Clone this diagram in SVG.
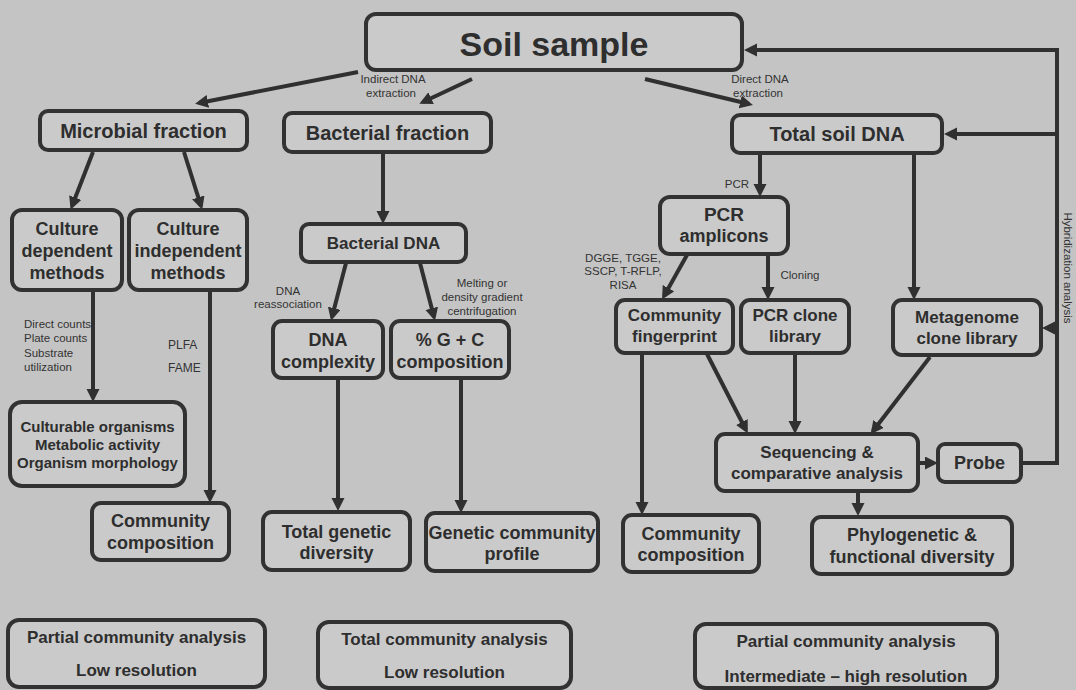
<svg xmlns="http://www.w3.org/2000/svg" width="1076" height="690" viewBox="0 0 1076 690">
<defs>
<marker id="ah" markerUnits="userSpaceOnUse" markerWidth="14" markerHeight="14" refX="9" refY="6.5" orient="auto">
<path d="M0,0 L13,6.5 L0,13 z" fill="#303030"/>
</marker>
<style>
.box{fill:#cacaca;stroke:#323232;stroke-width:4;}
.t{font-family:"Liberation Sans",Arial,sans-serif;font-weight:bold;fill:#2e2e2e;text-anchor:middle;}
.s{font-family:"Liberation Sans",Arial,sans-serif;fill:#333;font-size:11.5px;}
.c{text-anchor:middle;}
.ln{stroke:#303030;stroke-width:4;fill:none;}
.ar{marker-end:url(#ah);}
</style>
</defs>
<rect x="0" y="0" width="1076" height="690" fill="#c4c4c4"/>

<g id="connectors">
<line class="ln ar" x1="358" y1="72" x2="199" y2="103"/>
<line class="ln ar" x1="472" y1="79" x2="423" y2="102"/>
<line class="ln ar" x1="645" y1="79" x2="749" y2="104"/>
<line class="ln ar" x1="93" y1="152" x2="72" y2="206"/>
<line class="ln ar" x1="184" y1="152" x2="201" y2="206"/>
<line class="ln ar" x1="383" y1="153" x2="383" y2="220"/>
<line class="ln ar" x1="93" y1="291" x2="93" y2="398"/>
<line class="ln ar" x1="210" y1="291" x2="210" y2="499"/>
<line class="ln ar" x1="346" y1="263" x2="332" y2="317"/>
<line class="ln ar" x1="420" y1="263" x2="434" y2="317"/>
<line class="ln ar" x1="338" y1="379" x2="338" y2="507"/>
<line class="ln ar" x1="461" y1="379" x2="461" y2="509"/>
<line class="ln ar" x1="760" y1="154" x2="760" y2="193"/>
<line class="ln ar" x1="914" y1="154" x2="914" y2="296"/>
<line class="ln ar" x1="687" y1="255" x2="664" y2="296"/>
<line class="ln ar" x1="768" y1="255" x2="768" y2="296"/>
<line class="ln ar" x1="642" y1="354" x2="642" y2="511"/>
<line class="ln ar" x1="707" y1="354" x2="746" y2="430"/>
<line class="ln ar" x1="795" y1="354" x2="795" y2="430"/>
<line class="ln ar" x1="930" y1="357" x2="873" y2="431"/>
<line class="ln ar" x1="918" y1="463" x2="934" y2="463"/>
<line class="ln ar" x1="858" y1="493" x2="858" y2="512"/>
<polyline class="ln ar" points="1021,463 1057,463 1057,50 748,50"/>
<line class="ln ar" x1="1057" y1="134" x2="948" y2="134"/>
<line class="ln ar" x1="1057" y1="328" x2="1046" y2="328"/>
</g>

<g id="edge-labels">
<text class="s c" x="393" y="83">Indirect DNA</text>
<text class="s c" x="391" y="97">extraction</text>
<text class="s c" x="760" y="83">Direct DNA</text>
<text class="s c" x="758" y="97">extraction</text>
<text class="s" x="24" y="328">Direct counts</text>
<text class="s" x="24" y="342">Plate counts</text>
<text class="s" x="24" y="357">Substrate</text>
<text class="s" x="24" y="371">utilization</text>
<text class="s" x="168" y="349" style="font-size:12px">PLFA</text>
<text class="s" x="168" y="372" style="font-size:12px">FAME</text>
<text class="s c" x="288" y="295">DNA</text>
<text class="s c" x="288" y="308">reassociation</text>
<text class="s c" x="482" y="287">Melting or</text>
<text class="s c" x="482" y="301">density gradient</text>
<text class="s c" x="482" y="315">centrifugation</text>
<text class="s c" x="737" y="188">PCR</text>
<text class="s c" x="623" y="262">DGGE, TGGE,</text>
<text class="s c" x="623" y="275">SSCP, T-RFLP,</text>
<text class="s c" x="623" y="289">RISA</text>
<text class="s c" x="800" y="279">Cloning</text>
<text class="s c" x="0" y="0" transform="translate(1064,268) rotate(90)">Hybridization analysis</text>
</g>

<g id="soil-sample">
<rect class="box" x="366" y="14" width="376" height="56" rx="10"/>
<text class="t" x="554" y="56" style="font-size:34px">Soil sample</text>
</g>
<g id="microbial-fraction">
<rect class="box" x="40" y="111" width="207" height="39" rx="8"/>
<text class="t" x="143.5" y="138" style="font-size:20px">Microbial fraction</text>
</g>
<g id="bacterial-fraction">
<rect class="box" x="284" y="113" width="207" height="39" rx="8"/>
<text class="t" x="387.5" y="140" style="font-size:20px">Bacterial fraction</text>
</g>
<g id="total-soil-dna">
<rect class="box" x="732" y="115" width="210" height="38" rx="8"/>
<text class="t" x="837" y="141" style="font-size:20px">Total soil DNA</text>
</g>
<g id="culture-dependent">
<rect class="box" x="12" y="210" width="110" height="80" rx="10"/>
<text class="t" x="67" y="235" style="font-size:18px">Culture</text>
<text class="t" x="67" y="257" style="font-size:18px">dependent</text>
<text class="t" x="67" y="279" style="font-size:18px">methods</text>
</g>
<g id="culture-independent">
<rect class="box" x="129" y="210" width="118" height="80" rx="10"/>
<text class="t" x="188" y="235" style="font-size:18px">Culture</text>
<text class="t" x="188" y="257" style="font-size:18px">independent</text>
<text class="t" x="188" y="279" style="font-size:18px">methods</text>
</g>
<g id="bacterial-dna">
<rect class="box" x="301" y="224" width="165" height="38" rx="8"/>
<text class="t" x="383.5" y="249" style="font-size:17px">Bacterial DNA</text>
</g>
<g id="pcr-amplicons">
<rect class="box" x="660" y="197" width="128" height="57" rx="10"/>
<text class="t" x="724" y="221" style="font-size:19px">PCR</text>
<text class="t" x="724" y="242" style="font-size:18px">amplicons</text>
</g>
<g id="dna-complexity">
<rect class="box" x="273" y="321" width="110" height="57" rx="9"/>
<text class="t" x="328" y="346" style="font-size:18px">DNA</text>
<text class="t" x="328" y="368" style="font-size:18px">complexity</text>
</g>
<g id="gc-composition">
<rect class="box" x="391" y="321" width="118" height="57" rx="9"/>
<text class="t" x="450" y="346" style="font-size:18px">% G + C</text>
<text class="t" x="450" y="368" style="font-size:18px">composition</text>
</g>
<g id="community-fingerprint">
<rect class="box" x="616" y="300" width="117" height="53" rx="9"/>
<text class="t" x="674.5" y="321" style="font-size:17px">Community</text>
<text class="t" x="674.5" y="342" style="font-size:17px">fingerprint</text>
</g>
<g id="pcr-clone-library">
<rect class="box" x="741" y="300" width="108" height="53" rx="9"/>
<text class="t" x="795" y="321" style="font-size:17px">PCR clone</text>
<text class="t" x="795" y="342" style="font-size:17px">library</text>
</g>
<g id="metagenome-clone-library">
<rect class="box" x="893" y="300" width="148" height="55" rx="9"/>
<text class="t" x="967" y="323" style="font-size:17px">Metagenome</text>
<text class="t" x="967" y="344" style="font-size:17px">clone library</text>
</g>
<g id="culturable-organisms">
<rect class="box" x="10" y="402" width="175" height="84" rx="12"/>
<text class="t" x="97.5" y="432" style="font-size:15px">Culturable organisms</text>
<text class="t" x="97.5" y="450" style="font-size:15px">Metabolic activity</text>
<text class="t" x="97.5" y="468" style="font-size:15px">Organism morphology</text>
</g>
<g id="sequencing">
<rect class="box" x="716" y="434" width="202" height="57" rx="9"/>
<text class="t" x="817" y="458" style="font-size:17px">Sequencing &amp;</text>
<text class="t" x="817" y="479" style="font-size:17px">comparative analysis</text>
</g>
<g id="probe">
<rect class="box" x="938" y="444" width="83" height="38" rx="7"/>
<text class="t" x="979.5" y="469" style="font-size:18px">Probe</text>
</g>
<g id="community-composition-left">
<rect class="box" x="92" y="503" width="137" height="57" rx="9"/>
<text class="t" x="160.5" y="527" style="font-size:18px">Community</text>
<text class="t" x="160.5" y="549" style="font-size:18px">composition</text>
</g>
<g id="total-genetic-diversity">
<rect class="box" x="263" y="512" width="147" height="58" rx="9"/>
<text class="t" x="336.5" y="538" style="font-size:18px">Total genetic</text>
<text class="t" x="336.5" y="559" style="font-size:18px">diversity</text>
</g>
<g id="genetic-community-profile">
<rect class="box" x="426" y="513" width="172" height="58" rx="9"/>
<text class="t" x="512" y="539" style="font-size:18px">Genetic community</text>
<text class="t" x="512" y="560" style="font-size:18px">profile</text>
</g>
<g id="community-composition-right">
<rect class="box" x="623" y="515" width="136" height="57" rx="9"/>
<text class="t" x="691" y="540" style="font-size:18px">Community</text>
<text class="t" x="691" y="561" style="font-size:18px">composition</text>
</g>
<g id="phylogenetic-diversity">
<rect class="box" x="812" y="517" width="200" height="57" rx="9"/>
<text class="t" x="912" y="541" style="font-size:18px">Phylogenetic &amp;</text>
<text class="t" x="912" y="563" style="font-size:18px">functional diversity</text>
</g>
<g id="summary-left">
<rect class="box" x="8" y="620" width="257" height="67" rx="11"/>
<text class="t" x="136.5" y="643" style="font-size:17px">Partial community analysis</text>
<text class="t" x="136.5" y="676" style="font-size:17px">Low resolution</text>
</g>
<g id="summary-middle">
<rect class="box" x="318" y="622" width="253" height="66" rx="11"/>
<text class="t" x="444.5" y="645" style="font-size:17px">Total community analysis</text>
<text class="t" x="444.5" y="678" style="font-size:17px">Low resolution</text>
</g>
<g id="summary-right">
<rect class="box" x="695" y="624" width="302" height="64" rx="11"/>
<text class="t" x="846" y="647" style="font-size:17px">Partial community analysis</text>
<text class="t" x="846" y="682" style="font-size:17px">Intermediate – high resolution</text>
</g>
</svg>
